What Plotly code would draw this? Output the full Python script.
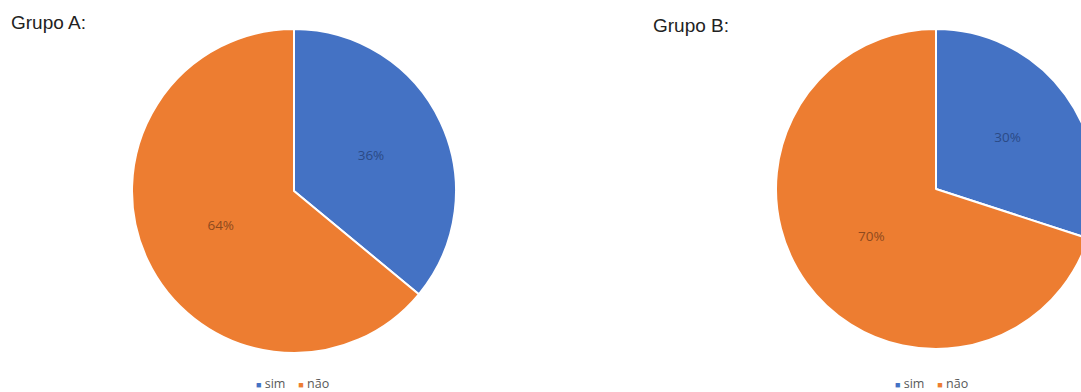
import plotly.graph_objects as go

labels = ["sim", "não"]
grupo_a = [36, 64]
grupo_b = [30, 70]
titles = ["Grupo A:", "Grupo B:"]
colors = ["#4472C4", "#ED7D31"]
text_colors = ["#2B4A86", "#8E4A1E"]

W, H = 1100, 392

fig = go.Figure()
fig.add_trace(go.Pie(
    labels=labels, values=grupo_a, sort=False, direction="clockwise", rotation=0,
    marker=dict(colors=colors, line=dict(color="white", width=2)),
    textinfo="percent", textposition="inside", insidetextorientation="horizontal",
    textfont=dict(size=13.5, color=text_colors, family="Open Sans"),
    domain=dict(x=[132 / W, 456 / W], y=[1 - 353 / H, 1 - 29 / H]),
    showlegend=False, hoverinfo="label+percent",
))
fig.add_trace(go.Pie(
    labels=labels, values=grupo_b, sort=False, direction="clockwise", rotation=0,
    marker=dict(colors=colors, line=dict(color="white", width=2)),
    textinfo="percent", textposition="inside", insidetextorientation="horizontal",
    textfont=dict(size=13.5, color=text_colors, family="Open Sans"),
    domain=dict(x=[776 / W, 1096 / W], y=[1 - 349 / H, 1 - 29 / H]),
    showlegend=False, hoverinfo="label+percent",
))


def legend_text():
    parts = []
    for lab, col in zip(labels, colors):
        parts.append(f"<span style='color:{col};font-size:9px'>■</span> {lab}")
    return "&nbsp;&nbsp;&nbsp;&nbsp;".join(parts)


legend_font = dict(size=12.5, color="#595959", family="Open Sans")
title_font = dict(size=19, color="#222222", family="Liberation Sans")
fig.update_layout(
    width=W, height=H, margin=dict(l=0, r=0, t=0, b=0),
    paper_bgcolor="white", plot_bgcolor="white",
    showlegend=False,
    annotations=[
        dict(text=titles[0], x=9 / W, y=1 - 23 / H, xref="paper", yref="paper",
             xanchor="left", yanchor="middle", showarrow=False, font=title_font),
        dict(text=titles[1], x=651 / W, y=1 - 25 / H, xref="paper", yref="paper",
             xanchor="left", yanchor="middle", showarrow=False, font=title_font),
        dict(text=legend_text(), x=254 / W, y=1 - 383 / H, xref="paper", yref="paper",
             xanchor="left", yanchor="middle", showarrow=False, font=legend_font),
        dict(text=legend_text(), x=893 / W, y=1 - 383 / H, xref="paper", yref="paper",
             xanchor="left", yanchor="middle", showarrow=False, font=legend_font),
    ],
)

fig.write_html("out.html")
